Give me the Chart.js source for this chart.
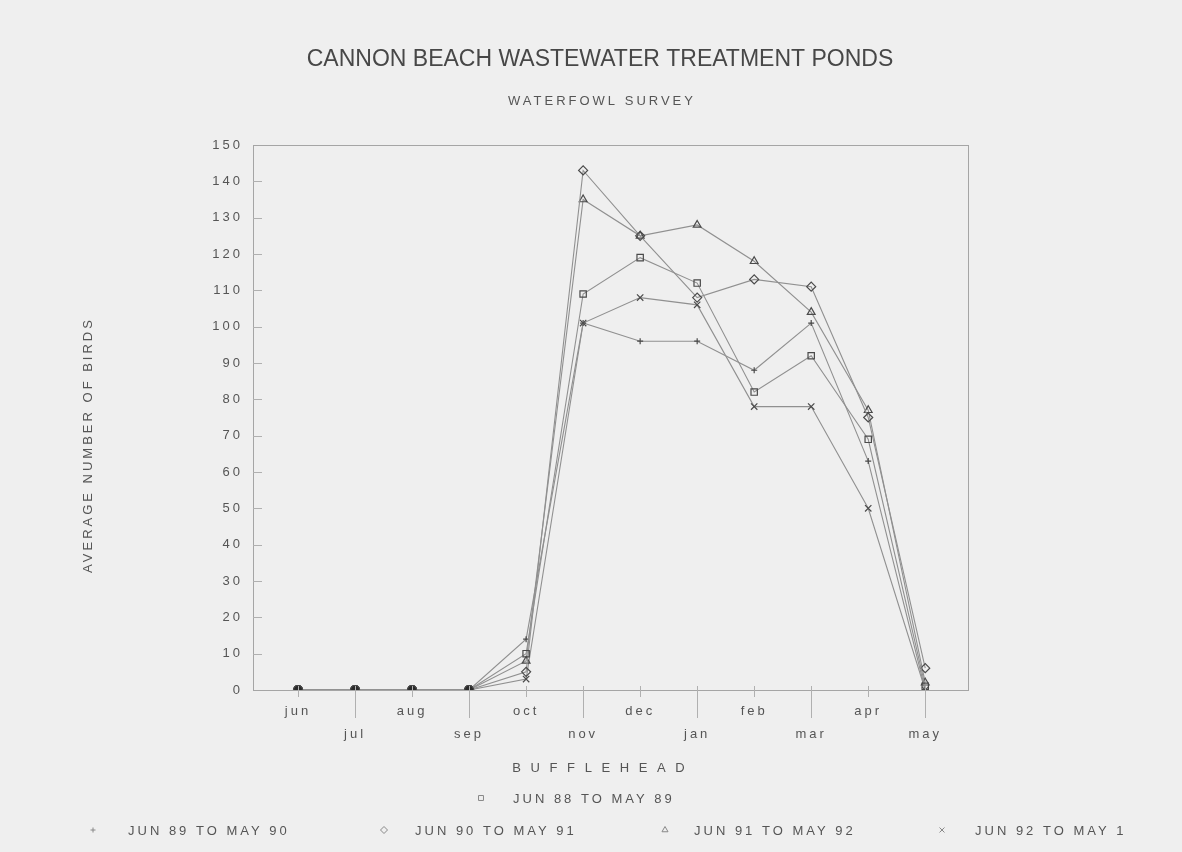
<!DOCTYPE html>
<html>
<head>
<meta charset="utf-8">
<title>Cannon Beach Wastewater Treatment Ponds</title>
<script src="https://cdn.jsdelivr.net/npm/chart.js@4.4.0/dist/chart.umd.min.js"></script>
<style>
    html, body { margin: 0; padding: 0; background: #efefef; }
    #wrap { width: 1182px; height: 852px; }
</style>
</head>
<body>
<div id="wrap"><canvas id="birdChart" width="1182" height="852"></canvas></div>
<script>
// Bufflehead counts
const months = ['jun', 'jul', 'aug', 'sep', 'oct', 'nov', 'dec', 'jan', 'feb', 'mar', 'apr', 'may'];
const yTicks = [0, 10, 20, 30, 40, 50, 60, 70, 80, 90, 100, 110, 120, 130, 140, 150];

const jun88 = [0, 0, 0, 0, 10, 109, 119, 112, 82, 92, 69, 1];
const jun89 = [0, 0, 0, 0, 14, 101, 96, 96, 88, 101, 63, 0];
const jun90 = [0, 0, 0, 0, 5, 143, 125, 108, 113, 111, 75, 6];
const jun91 = [0, 0, 0, 0, 8, 135, 125, 128, 118, 104, 77, 2];
const jun92 = [0, 0, 0, 0, 3, 101, 108, 106, 78, 78, 50, 0];

const seriesNames = ['JUN 88 TO MAY 89', 'JUN 89 TO MAY 90', 'JUN 90 TO MAY 91', 'JUN 91 TO MAY 92', 'JUN 92 TO MAY 1'];
const seriesMarkers = ['rect', 'cross', 'rectRot', 'triangle', 'crossRot'];

const FONT = "'Liberation Sans', Arial, sans-serif";
const INK = '#555';

function toPoints(values) {
    return values.map((v, i) => ({ x: i, y: v }));
}

function makeDataset(label, values, marker) {
    return {
        label: label,
        data: toPoints(values),
        borderColor: '#909090',
        borderWidth: 1.1,
        // summer zeros pile up into a dark blob on the original
        pointStyle: function(c) {
            return c.dataIndex < 4 ? 'circle' : marker;
        },
        pointRadius: function(c) {
            if (c.dataIndex < 4) return 4.5;
            return marker === 'cross' ? 3 : 4.5;
        },
        pointBorderColor: '#4a4a4a',
        pointBorderWidth: 1.2,
        pointBackgroundColor: function(c) {
            return c.dataIndex < 4 ? '#2a2a2a' : 'rgba(0,0,0,0)';
        },
        tension: 0
    };
}

// draws the paper, frame, ticks, titles and legend the way the old plotter did
const paperPlugin = {
    id: 'paper',
    beforeUpdate(chart) {
        chart.ctx.letterSpacing = '3px';
    },
    beforeDraw(chart) {
        const ctx = chart.ctx;
        ctx.save();
        ctx.fillStyle = '#efefef';
        ctx.fillRect(0, 0, chart.width, chart.height);
        ctx.restore();
        ctx.letterSpacing = '3px';
    },
    afterDraw(chart) {
        const ctx = chart.ctx;
        const area = chart.chartArea;
        const xs = chart.scales.x;
        const ys = chart.scales.y;

        ctx.save();
        ctx.letterSpacing = '0px';
        ctx.strokeStyle = '#a5a5a5';
        ctx.lineWidth = 1;
        ctx.strokeRect(area.left + 0.5, area.top + 0.5, area.right - area.left, area.bottom - area.top);

        // month ticks, longer for the lower row of labels
        ctx.strokeStyle = '#b0b0b0';
        months.forEach((m, i) => {
            const px = Math.round(xs.getPixelForValue(i)) + 0.5;
            ctx.beginPath();
            ctx.moveTo(px, area.bottom - 4);
            ctx.lineTo(px, area.bottom + (i % 2 ? 28 : 7));
            ctx.stroke();
        });
        // value ticks inside the frame
        yTicks.forEach(v => {
            if (v === 0 || v === 150) return;
            const py = Math.round(ys.getPixelForValue(v)) + 0.5;
            ctx.beginPath();
            ctx.moveTo(area.left, py);
            ctx.lineTo(area.left + 9, py);
            ctx.stroke();
        });

        ctx.fillStyle = '#474747';
        ctx.textAlign = 'center';
        ctx.textBaseline = 'middle';
        ctx.font = '23px ' + FONT;
        ctx.letterSpacing = '0px';
        ctx.fillText('CANNON BEACH WASTEWATER TREATMENT PONDS', 600, 60);

        ctx.fillStyle = INK;
        ctx.font = '13px ' + FONT;
        ctx.letterSpacing = '3px';
        ctx.fillText('WATERFOWL SURVEY', 602, 101);
        ctx.fillText('B U F F L E H E A D', 600, 768);

        ctx.save();
        ctx.translate(88, 445);
        ctx.rotate(-Math.PI / 2);
        ctx.fillText('AVERAGE NUMBER OF BIRDS', 0, 0);
        ctx.restore();

        // legend: first series alone on top row, the rest in a row below
        const legendSpots = [
            { mx: 481, tx: 513, y: 798 },
            { mx: 93, tx: 128, y: 830 },
            { mx: 384, tx: 415, y: 830 },
            { mx: 665, tx: 694, y: 830 },
            { mx: 942, tx: 975, y: 830 }
        ];
        ctx.textAlign = 'left';
        chart.data.datasets.forEach((ds, i) => {
            const spot = legendSpots[i];
            ctx.strokeStyle = '#888';
            ctx.fillStyle = 'rgba(0,0,0,0)';
            ctx.lineWidth = 1;
            Chart.helpers.drawPoint(ctx, {
                pointStyle: seriesMarkers[i],
                rotation: 0,
                radius: seriesMarkers[i] === 'cross' ? 2.5 : 3.5,
                borderWidth: 1
            }, spot.mx, spot.y);
            ctx.fillStyle = INK;
            ctx.fillText(ds.label, spot.tx, spot.y + 1);
        });
        ctx.restore();
    }
};

const chart = new Chart(document.getElementById('birdChart').getContext('2d'), {
    type: 'line',
    data: {
        datasets: [
            makeDataset(seriesNames[0], jun88, seriesMarkers[0]),
            makeDataset(seriesNames[1], jun89, seriesMarkers[1]),
            makeDataset(seriesNames[2], jun90, seriesMarkers[2]),
            makeDataset(seriesNames[3], jun91, seriesMarkers[3]),
            makeDataset(seriesNames[4], jun92, seriesMarkers[4])
        ]
    },
    options: {
        responsive: false,
        devicePixelRatio: 1,
        animation: false,
        layout: {
            padding: { left: 20, top: 145, right: 214, bottom: 0 }
        },
        plugins: {
            legend: { display: false },
            title: { display: false },
            tooltip: { enabled: false }
        },
        scales: {
            x: {
                type: 'linear',
                min: -0.79,
                max: 11.75,
                grid: { display: false, drawTicks: false },
                border: { display: false },
                afterFit: function(scale) { scale.height = 162; },
                ticks: {
                    stepSize: 1,
                    autoSkip: false,
                    includeBounds: false,
                    maxRotation: 0,
                    padding: 10,
                    color: INK,
                    font: { family: FONT, size: 13, lineHeight: '23px' },
                    callback: function(value) {
                        if (!Number.isInteger(value) || value < 0 || value > 11) return '';
                        return value % 2 === 0 ? months[value] : ['', months[value]];
                    }
                }
            },
            y: {
                min: 0,
                max: 150,
                grid: { display: false, drawTicks: false },
                border: { display: false },
                afterFit: function(scale) { scale.width = 233; },
                afterBuildTicks: function(scale) {
                    scale.ticks = yTicks.map(v => ({ value: v }));
                },
                ticks: {
                    padding: 10,
                    color: INK,
                    font: { family: FONT, size: 13 }
                }
            }
        }
    },
    plugins: [paperPlugin]
});
</script>
</body>
</html>
